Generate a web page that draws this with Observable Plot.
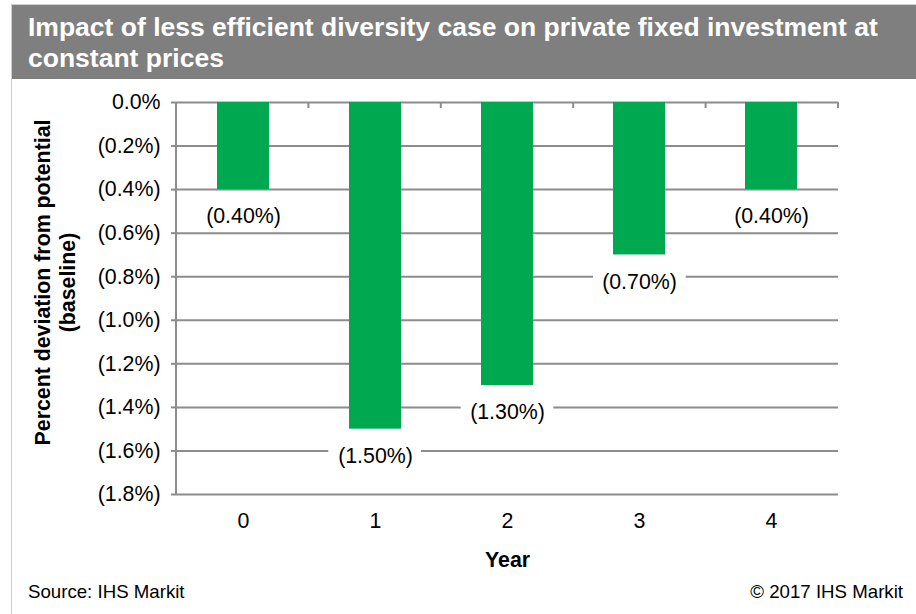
<!DOCTYPE html>
<html>
<head>
<meta charset="utf-8">
<script src="https://cdn.jsdelivr.net/npm/d3@7"></script>
<script src="https://cdn.jsdelivr.net/npm/@observablehq/plot@0.6"></script>
<style>
  html, body { margin: 0; padding: 0; background: #fff; }
  #wrap { position: relative; width: 916px; height: 614px; overflow: hidden; font-family: "Liberation Sans", Arial, sans-serif; }
  #topline { position: absolute; left: 12px; top: 4px; width: 904px; height: 1px; background: #cfcfcf; }
  #leftline { position: absolute; left: 11px; top: 4px; width: 1px; height: 610px; background: #cfcfcf; }
  #banner { position: absolute; left: 12px; top: 5px; width: 904px; height: 74px; background: #7f7f7f; }
  #title { position: absolute; left: 28px; top: 12px; color: #fff; font-weight: bold; font-size: 26.5px; line-height: 31px; white-space: nowrap; }
  #source { position: absolute; left: 28px; top: 581px; font-size: 18.67px; color: #000; }
  #copy { position: absolute; right: 13px; top: 581px; font-size: 18.67px; color: #000; }
  #chart { position: absolute; left: 0; top: 0; }
</style>
</head>
<body>
<div id="wrap">
  <div id="chart"></div>
  <div id="topline"></div>
  <div id="leftline"></div>
  <div id="banner"></div>
  <div id="title">Impact of less efficient diversity case on private fixed investment at<br>constant prices</div>
  <div id="source">Source: IHS Markit</div>
  <div id="copy">© 2017 IHS Markit</div>
</div>
<script>
const years = ["0", "1", "2", "3", "4"];
const deviation = [-0.40, -1.50, -1.30, -0.70, -0.40];
const yTicks = [0, -0.2, -0.4, -0.6, -0.8, -1.0, -1.2, -1.4, -1.6, -1.8];
const yTitle = "Percent deviation from potential\n(baseline)";
const xTitle = "Year";

const data = years.map((year, i) => ({year, value: deviation[i]}));
const fmtTick = v => v === 0 ? "0.0%" : `(${Math.abs(v).toFixed(1)}%)`;
const fmtLabel = v => `(${Math.abs(v).toFixed(2)}%)`;

const gridColor = "#8c8c8c";
const fontFamily = "'Liberation Sans', Arial, sans-serif";
const fontSize = 21.33;
const labelOffset = 27;

// y-axis line and category boundary ticks, derived from the plot's frame
function axisFrame(index, scales, values, dims) {
  const {width, height, marginLeft, marginRight, marginTop, marginBottom} = dims;
  const g = d3.create("svg:g").attr("stroke", gridColor).attr("stroke-width", 2);
  const n = years.length;
  const inner = width - marginLeft - marginRight;
  g.append("line")
    .attr("x1", marginLeft).attr("x2", marginLeft)
    .attr("y1", marginTop).attr("y2", height - marginBottom);
  for (let k = 1; k <= n; k++) {
    const bx = marginLeft + k * inner / n;
    g.append("line")
      .attr("x1", bx).attr("x2", bx)
      .attr("y1", marginTop).attr("y2", marginTop + 6);
  }
  return g.node();
}

// white boxes behind the data labels (mask the gridlines like the reference)
const measureCtx = document.createElement("canvas").getContext("2d");
measureCtx.font = `${fontSize}px ${fontFamily}`;
function labelBoxes(index, scales, values, dims) {
  const {width, marginLeft, marginRight} = dims;
  const n = years.length;
  const inner = width - marginLeft - marginRight;
  const g = d3.create("svg:g").attr("fill", "white");
  data.forEach((d, i) => {
    const cx = marginLeft + (i + 0.5) * inner / n;
    const cy = scales.y(d.value) + labelOffset;
    const w = measureCtx.measureText(fmtLabel(d.value)).width + 18;
    g.append("rect")
      .attr("x", cx - w / 2).attr("width", w)
      .attr("y", cy - 8).attr("height", 16);
  });
  return g.node();
}

const chart = Plot.plot({
  width: 916,
  height: 614,
  marginLeft: 176,
  marginRight: 78,
  marginTop: 102,
  marginBottom: 120,
  style: {fontFamily, fontSize: fontSize + "px", color: "#000", background: "transparent"},
  x: {domain: years, padding: 0, label: null},
  y: {domain: [-1.8, 0], label: null},
  marks: [
    Plot.ruleY(yTicks, {stroke: gridColor, strokeWidth: 2}),
    Plot.barY(data, {x: "year", y: "value", fill: "#00a84f", insetLeft: 40, insetRight: 40}),
    axisFrame,
    labelBoxes,
    Plot.text(data, {
      x: "year", y: "value", text: d => fmtLabel(d.value), dy: labelOffset,
      fill: "#000", fontSize
    }),
    Plot.axisY({ticks: yTicks, tickFormat: fmtTick, tickSize: 5, tickPadding: 11, stroke: gridColor, strokeWidth: 2, fontSize, label: null}),
    Plot.axisX({tickSize: 0, tickPadding: 18, fontSize, label: null}),
    Plot.text([yTitle], {
      frameAnchor: "left", rotate: -90, dx: -122, dy: -16, textAnchor: "middle",
      fontWeight: "bold", fontSize, lineHeight: 1.2, fill: "#000"
    }),
    Plot.text([xTitle], {
      frameAnchor: "bottom", dy: 66, lineAnchor: "middle",
      fontWeight: "bold", fontSize, fill: "#000"
    })
  ]
});
document.getElementById("chart").appendChild(chart);
</script>
</body>
</html>
